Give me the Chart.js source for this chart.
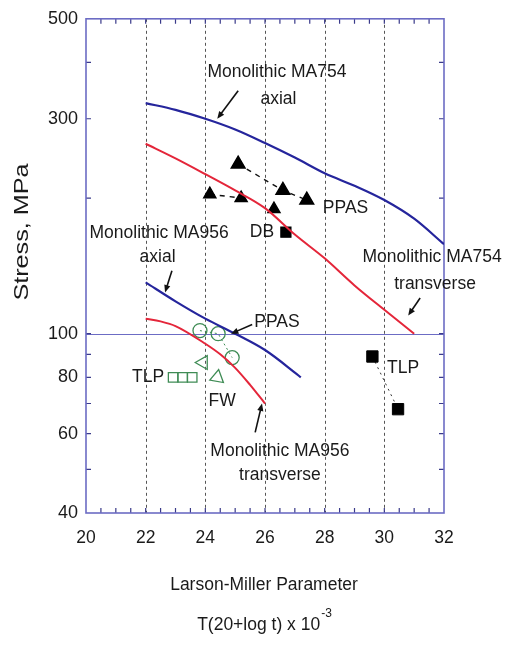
<!DOCTYPE html>
<html>
<head>
<meta charset="utf-8">
<script src="https://cdn.jsdelivr.net/npm/chart.js@4.4.1/dist/chart.umd.min.js"></script>
<style>
  html, body { margin: 0; padding: 0; background: #fff; }
  #wrap { width: 506px; height: 645px; position: relative; }
</style>
</head>
<body>
<div id="wrap"><canvas id="chart"></canvas></div>
<script>
/* ================= DATA ================= */

// Larson-Miller parameter (x) and stress in MPa (y)
const ma754AxialX = [22, 23, 24, 25, 26, 27, 28, 29, 30, 31, 32];
const ma754AxialY = [325, 314, 300, 284, 265, 246, 227, 213, 198, 180, 158];

const ma754TransX = [22, 23, 24, 25, 26, 27, 28, 29, 30, 31];
const ma754TransY = [264, 245, 226, 208, 190, 166, 147, 128, 113, 100];

const ma956AxialX = [22, 23, 24, 25, 26, 27, 27.2];
const ma956AxialY = [130, 118, 108, 100, 92, 82, 80];

const ma956TransX = [22, 22.5, 23, 24, 24.5, 25, 25.5, 26];
const ma956TransY = [108, 106.5, 104, 95, 90, 84, 77, 70];

const ppasX = [25.1, 26.6, 27.4];
const ppasY = [238, 208, 198];

const dbX = [24.15, 25.2, 26.3, 26.7];
const dbY = [204, 200, 189, 168];

const tlpX = [29.6, 30.46];
const tlpY = [89, 68];

const ppas956X = [23.82, 24.43, 24.9];
const ppas956Y = [101.6, 100, 88.5];

const fwX = [23.93, 24.4];
const fwY = [86.3, 80];

const tlp956X = [22.92, 23.24, 23.56];
const tlp956Y = [80, 80, 80];

// axis ticks
const xTickLabels = [20, 22, 24, 26, 28, 30, 32];
const xGridLines = [22, 24, 26, 28, 30];
const xTickMarks = [20.5, 21, 21.5, 22, 22.5, 23, 23.5, 24, 24.5, 25, 25.5, 26,
  26.5, 27, 27.5, 28, 28.5, 29, 29.5, 30, 30.5, 31, 31.5];
const yTickLabels = [40, 60, 80, 100, 300, 500];
const yTickMarks = [50, 60, 70, 80, 90, 100, 200, 300, 400];

/* ================= ANNOTATIONS ================= */

const labels = [
  { text: "Monolithic MA754", x: 26.4, y: 380 },
  { text: "axial", x: 26.45, y: 332 },
  { text: "PPAS", x: 28.7, y: 190 },
  { text: "DB", x: 25.9, y: 168 },
  { text: "Monolithic MA956", x: 22.45, y: 167 },
  { text: "axial", x: 22.4, y: 147.5 },
  { text: "Monolithic MA754", x: 31.6, y: 147.5 },
  { text: "transverse", x: 31.7, y: 129 },
  { text: "PPAS", x: 26.4, y: 106 },
  { text: "TLP", x: 22.08, y: 80 },
  { text: "FW", x: 24.56, y: 71 },
  { text: "TLP", x: 30.63, y: 84 },
  { text: "Monolithic MA956", x: 26.5, y: 55 },
  { text: "transverse", x: 26.5, y: 48.5 }
];

const arrows = [
  { from: [25.1, 346], to: [24.4, 300] },
  { from: [22.88, 138], to: [22.65, 123.5] },
  { from: [31.2, 120], to: [30.8, 109.7] },
  { from: [25.57, 104.8], to: [24.86, 100] },
  { from: [25.67, 60.4], to: [25.9, 70] }
];

/* ================= HELPERS ================= */

const FONT = "'Liberation Sans', Arial, sans-serif";
const BLUE = "#25259c";
const RED = "#e4263a";
const GREEN = "#3f8c55";
const FRAME = "#6c6cc4";

function pts(xs, ys) {
  return xs.map((x, i) => ({ x: x, y: ys[i] }));
}

function drawArrow(ctx, x1, y1, x2, y2) {
  const ang = Math.atan2(y2 - y1, x2 - x1);
  const head = 8;
  ctx.beginPath();
  ctx.moveTo(x1, y1);
  ctx.lineTo(x2 - Math.cos(ang) * 4, y2 - Math.sin(ang) * 4);
  ctx.stroke();
  ctx.beginPath();
  ctx.moveTo(x2, y2);
  ctx.lineTo(x2 - head * Math.cos(ang - 0.4), y2 - head * Math.sin(ang - 0.4));
  ctx.lineTo(x2 - head * Math.cos(ang + 0.4), y2 - head * Math.sin(ang + 0.4));
  ctx.closePath();
  ctx.fill();
}

/* ================= FRAME / TEXT PLUGIN ================= */

const framePlugin = {
  id: "frame",
  beforeDatasetsDraw(chart) {
    const ctx = chart.ctx;
    const a = chart.chartArea;
    const xs = chart.scales.x;
    const ys = chart.scales.y;
    ctx.save();

    // dashed vertical grid lines
    ctx.strokeStyle = "#555";
    ctx.lineWidth = 1;
    ctx.setLineDash([3, 3]);
    xGridLines.forEach(v => {
      const px = Math.round(xs.getPixelForValue(v)) + 0.5;
      ctx.beginPath();
      ctx.moveTo(px, a.top);
      ctx.lineTo(px, a.bottom);
      ctx.stroke();
    });
    ctx.setLineDash([]);

    // horizontal line at 100 MPa
    const p100 = Math.round(ys.getPixelForValue(100)) + 0.5;
    ctx.strokeStyle = FRAME;
    ctx.beginPath();
    ctx.moveTo(a.left, p100);
    ctx.lineTo(a.right, p100);
    ctx.stroke();

    // inward tick marks on all four sides
    ctx.strokeStyle = "#3a3a8a";
    ctx.lineWidth = 1.2;
    const tl = 5;
    xTickMarks.forEach(v => {
      const px = xs.getPixelForValue(v);
      ctx.beginPath();
      ctx.moveTo(px, a.bottom);
      ctx.lineTo(px, a.bottom - tl);
      ctx.moveTo(px, a.top);
      ctx.lineTo(px, a.top + tl);
      ctx.stroke();
    });
    yTickMarks.forEach(v => {
      const py = ys.getPixelForValue(v);
      ctx.beginPath();
      ctx.moveTo(a.left, py);
      ctx.lineTo(a.left + tl, py);
      ctx.moveTo(a.right, py);
      ctx.lineTo(a.right - tl, py);
      ctx.stroke();
    });

    // box
    ctx.strokeStyle = FRAME;
    ctx.lineWidth = 1.6;
    ctx.strokeRect(a.left, a.top, a.right - a.left, a.bottom - a.top);
    ctx.restore();
  },
  afterDatasetsDraw(chart) {
    const ctx = chart.ctx;
    const xs = chart.scales.x;
    const ys = chart.scales.y;
    ctx.save();

    ctx.fillStyle = "#111";
    ctx.strokeStyle = "#111";
    ctx.lineWidth = 1.6;
    arrows.forEach(ar => {
      drawArrow(ctx,
        xs.getPixelForValue(ar.from[0]), ys.getPixelForValue(ar.from[1]),
        xs.getPixelForValue(ar.to[0]), ys.getPixelForValue(ar.to[1]));
    });

    ctx.font = "17.5px " + FONT;
    ctx.textAlign = "center";
    ctx.textBaseline = "middle";
    ctx.fillStyle = "#1a1a1a";
    labels.forEach(l => {
      ctx.fillText(l.text, xs.getPixelForValue(l.x), ys.getPixelForValue(l.y));
    });

    // axis titles
    ctx.fillText("Larson-Miller Parameter", 264, 585);
    const main = "T(20+log t) x 10";
    const w = ctx.measureText(main).width;
    ctx.font = "12px " + FONT;
    const sw = ctx.measureText("-3").width;
    const left = 264 - (w + sw) / 2;
    ctx.textAlign = "left";
    ctx.fillText("-3", left + w + 1, 614);
    ctx.font = "17.5px " + FONT;
    ctx.fillText(main, left, 625);

    ctx.translate(22, 232);
    ctx.rotate(-Math.PI / 2);
    ctx.scale(1.2, 1);
    ctx.font = "21px " + FONT;
    ctx.textAlign = "center";
    ctx.fillText("Stress, MPa", 0, 0);
    ctx.restore();
  }
};

/* ================= CHART ================= */

const curve = (data, color, width) => ({
  data: data,
  showLine: true,
  borderColor: color,
  borderWidth: width,
  pointRadius: 0,
  cubicInterpolationMode: "monotone"
});

new Chart(document.getElementById("chart"), {
  type: "scatter",
  data: {
    datasets: [
      curve(pts(ma754AxialX, ma754AxialY), BLUE, 2.2),
      curve(pts(ma754TransX, ma754TransY), RED, 2),
      curve(pts(ma956AxialX, ma956AxialY), BLUE, 2.2),
      curve(pts(ma956TransX, ma956TransY), RED, 2),
      {
        data: pts(ppasX, ppasY),
        showLine: true,
        borderColor: "#111",
        borderWidth: 1.4,
        borderDash: [5, 5],
        pointStyle: "triangle",
        pointRadius: 8,
        backgroundColor: "#000",
        pointBorderColor: "#000"
      },
      {
        data: pts(dbX, dbY),
        showLine: true,
        borderColor: "#111",
        borderWidth: 1.4,
        borderDash: [5, 5],
        segment: {
          borderColor: c => c.p0DataIndex === 0 ? "#111" : "rgba(0,0,0,0)"
        },
        pointStyle: ["triangle", "triangle", "triangle", "rect"],
        pointRadius: 7,
        backgroundColor: "#000",
        pointBorderColor: "#000"
      },
      {
        data: pts(tlpX, tlpY),
        showLine: true,
        borderColor: "#333",
        borderWidth: 1,
        borderDash: [2, 4],
        pointStyle: "rect",
        pointRadius: 8,
        backgroundColor: "#000",
        pointBorderColor: "#000"
      },
      {
        data: pts(ppas956X, ppas956Y),
        showLine: true,
        borderColor: GREEN,
        borderWidth: 1,
        borderDash: [2, 3],
        pointStyle: "circle",
        pointRadius: 7,
        pointBorderWidth: 1.3,
        backgroundColor: "rgba(0,0,0,0)",
        pointBorderColor: GREEN
      },
      {
        data: pts(fwX, fwY),
        showLine: false,
        pointStyle: "triangle",
        pointRotation: [-90, -110],
        pointRadius: 8,
        pointBorderWidth: 1.3,
        backgroundColor: "rgba(0,0,0,0)",
        pointBorderColor: GREEN
      },
      {
        data: pts(tlp956X, tlp956Y),
        showLine: false,
        pointStyle: "rect",
        pointRadius: 6.7,
        pointBorderWidth: 1.3,
        backgroundColor: "rgba(0,0,0,0)",
        pointBorderColor: GREEN
      }
    ]
  },
  options: {
    responsive: true,
    maintainAspectRatio: false,
    animation: false,
    events: [],
    layout: { padding: { left: 0, right: 62, top: 18, bottom: 0 } },
    plugins: {
      legend: { display: false },
      tooltip: { enabled: false }
    },
    scales: {
      x: {
        type: "linear",
        min: 20,
        max: 32,
        grid: { display: false, drawTicks: false },
        border: { display: false },
        afterBuildTicks: s => { s.ticks = xTickLabels.map(v => ({ value: v })); },
        afterFit: s => { s.height = 132; },
        ticks: {
          padding: 15,
          color: "#1a1a1a",
          font: { family: FONT, size: 17.5 },
          maxRotation: 0
        }
      },
      y: {
        type: "logarithmic",
        min: 40,
        max: 500,
        grid: { display: false, drawTicks: false },
        border: { display: false },
        afterBuildTicks: s => { s.ticks = yTickLabels.map(v => ({ value: v })); },
        afterFit: s => { s.width = 86; },
        ticks: {
          padding: 8,
          color: "#1a1a1a",
          font: { family: FONT, size: 18 },
          callback: v => String(v)
        }
      }
    }
  },
  plugins: [framePlugin]
});
</script>
</body>
</html>
